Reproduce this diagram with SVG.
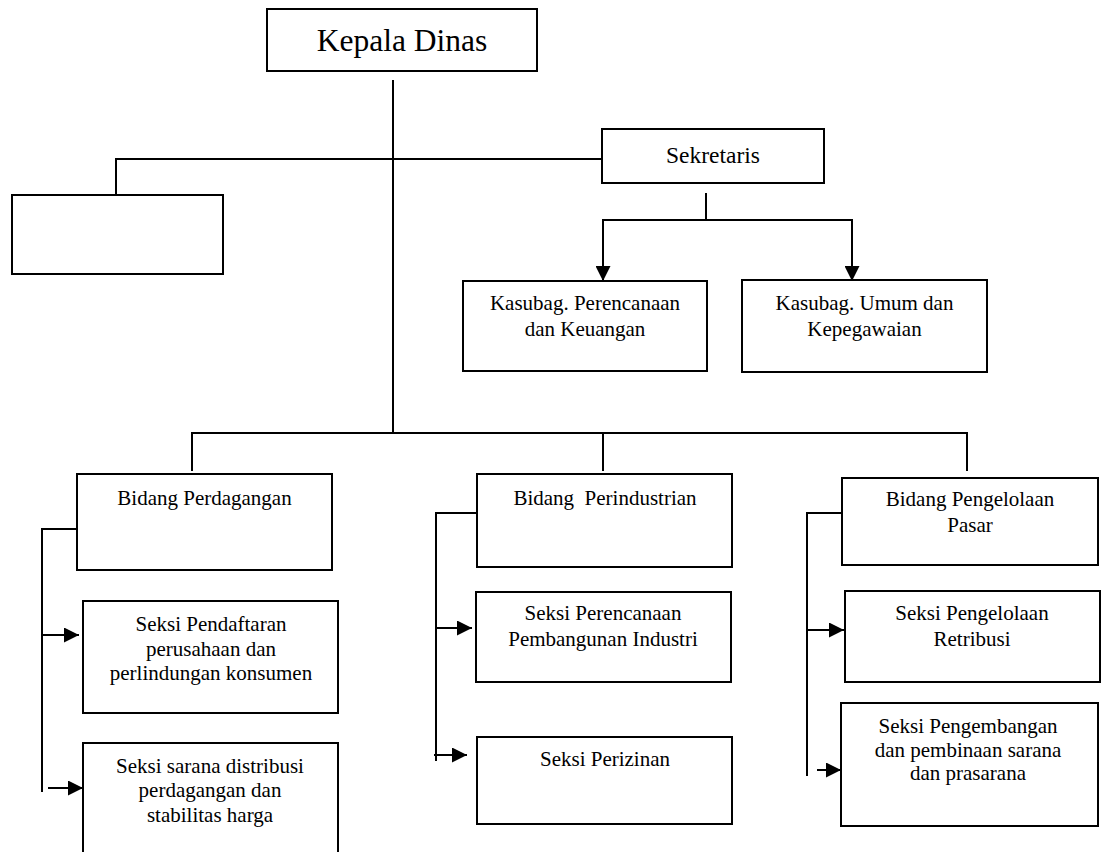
<svg xmlns="http://www.w3.org/2000/svg" width="1105" height="852" viewBox="0 0 1105 852">
<defs>
<marker id="arr" viewBox="0 0 10 10" refX="10" refY="5" markerWidth="7.5" markerHeight="7.5" orient="auto">
<path d="M0,0 L10,5 L0,10 Z" fill="#000"/>
</marker>
<style>
rect{fill:#fff;stroke:#000;stroke-width:2}
.c line,.c path{stroke:#000;stroke-width:2;fill:none}
text{font-family:"Liberation Serif","Times New Roman",serif;font-size:21px;fill:#000;text-anchor:middle}
</style>
</defs>
<rect width="1105" height="852" style="stroke:none"/>
<g class="c" id="connectors">
<line x1="393" y1="80" x2="393" y2="433"/>
<path d="M116,195 V159 H602"/>
<line x1="706" y1="193" x2="706" y2="220"/>
<path d="M603,220 H852"/>
<line x1="603" y1="219" x2="603" y2="281" marker-end="url(#arr)"/>
<line x1="852" y1="219" x2="852" y2="281" marker-end="url(#arr)"/>
<path d="M192,471 V433 H967 V471"/>
<line x1="603" y1="433" x2="603" y2="471"/>
<path d="M77,529 H42 V792"/>
<line x1="43" y1="635" x2="79" y2="635" marker-end="url(#arr)"/>
<line x1="48" y1="788" x2="83" y2="788" marker-end="url(#arr)"/>
<path d="M477,513 H436 V761"/>
<line x1="437" y1="628" x2="472" y2="628" marker-end="url(#arr)"/>
<line x1="434" y1="755" x2="467" y2="755" marker-end="url(#arr)"/>
<path d="M842,513 H807 V776"/>
<line x1="808" y1="630" x2="844" y2="630" marker-end="url(#arr)"/>
<line x1="817" y1="770" x2="841" y2="770" marker-end="url(#arr)"/>
</g>
<g id="kepala">
<rect x="267" y="9" width="270" height="62"/>
<text x="402" y="51" style="font-size:31.5px">Kepala Dinas</text>
</g>
<g id="blank">
<rect x="12" y="195" width="211" height="79"/>
</g>
<g id="sekretaris">
<rect x="602" y="129" width="222" height="54"/>
<text x="713" y="163" style="font-size:23.5px">Sekretaris</text>
</g>
<g id="kasubag-perencanaan">
<rect x="463" y="281" width="244" height="90"/>
<text x="585" y="310">Kasubag. Perencanaan</text>
<text x="585" y="336">dan Keuangan</text>
</g>
<g id="kasubag-umum">
<rect x="742" y="280" width="245" height="92"/>
<text x="864.5" y="310">Kasubag. Umum dan</text>
<text x="864.5" y="336">Kepegawaian</text>
</g>
<g id="bidang-perdagangan">
<rect x="77" y="474" width="255" height="96"/>
<text x="204.5" y="505">Bidang Perdagangan</text>
</g>
<g id="seksi-pendaftaran">
<rect x="83" y="601" width="255" height="112"/>
<text x="211" y="631">Seksi Pendaftaran</text>
<text x="211" y="656">perusahaan dan</text>
<text x="211" y="680">perlindungan konsumen</text>
</g>
<g id="seksi-sarana">
<rect x="83" y="743" width="255" height="120"/>
<text x="210" y="773">Seksi sarana distribusi</text>
<text x="210" y="797">perdagangan dan</text>
<text x="210" y="822">stabilitas harga</text>
</g>
<g id="bidang-perindustrian">
<rect x="477" y="474" width="255" height="93"/>
<text x="605" y="505" style="white-space:pre">Bidang  Perindustrian</text>
</g>
<g id="seksi-perencanaan">
<rect x="476" y="592" width="255" height="90"/>
<text x="603" y="620">Seksi Perencanaan</text>
<text x="603" y="646">Pembangunan Industri</text>
</g>
<g id="seksi-perizinan">
<rect x="477" y="737" width="255" height="87"/>
<text x="605" y="766">Seksi Perizinan</text>
</g>
<g id="bidang-pasar">
<rect x="842" y="478" width="256" height="87"/>
<text x="970" y="506">Bidang Pengelolaan</text>
<text x="970" y="532">Pasar</text>
</g>
<g id="seksi-retribusi">
<rect x="845" y="591" width="255" height="91"/>
<text x="972" y="620">Seksi Pengelolaan</text>
<text x="972" y="646">Retribusi</text>
</g>
<g id="seksi-pengembangan">
<rect x="841" y="703" width="257" height="123"/>
<text x="968" y="733">Seksi Pengembangan</text>
<text x="968" y="757">dan pembinaan sarana</text>
<text x="968" y="780">dan prasarana</text>
</g>
</svg>
